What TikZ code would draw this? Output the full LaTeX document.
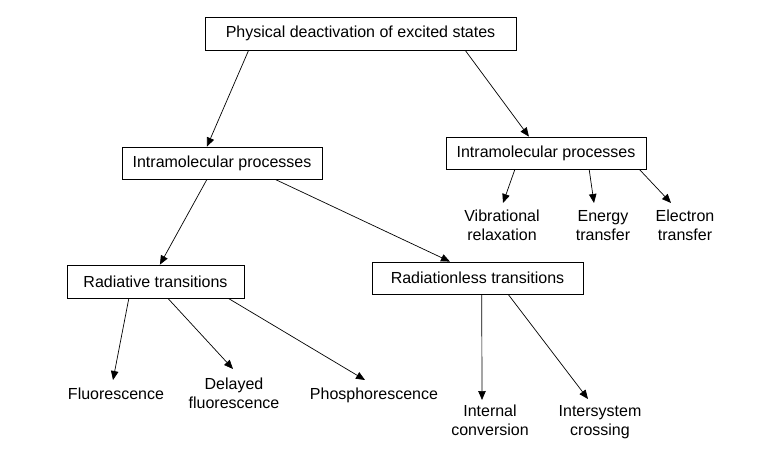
\documentclass[tikz,border=0pt]{standalone}
\usepackage{fontspec}
\setmainfont{Liberation Sans}
\usetikzlibrary{arrows.meta,calc}
\begin{document}
\begin{tikzpicture}[x=1pt,y=-1pt,
  box/.style={draw, line width=0.8pt, inner sep=0pt, font=\fontsize{16}{19}\selectfont},
  lbl/.style={align=center, inner sep=0pt, anchor=north, font=\fontsize{16}{19}\selectfont},
  arr/.style={-{Triangle[length=9pt,width=7.5pt]}, line width=0.7pt}]
\useasboundingbox (0,0) rectangle (762,453);
% boxes
\node[box, minimum width=311pt, minimum height=33pt] (top) at (360.5,33.5) {Physical deactivation of excited states};
\node[box, minimum width=200pt, minimum height=32pt] (il) at (222,163) {Intramolecular processes};
\node[box, minimum width=200pt, minimum height=32pt] (ir) at (546,153) {Intramolecular processes};
\node[box, minimum width=177pt, minimum height=33pt] (rad) at (155.5,281.5) {Radiative transitions};
\node[box, minimum width=211pt, minimum height=32pt] (rnl) at (477.5,278) {Radiationless transitions};
% labels
\node[lbl] (vib) at (502,210) {Vibrational\\relaxation};
\node[lbl] (ene) at (603,210) {Energy\\transfer};
\node[lbl] (ele) at (685,210) {Electron\\transfer};
\node[lbl] (flu) at (116,388) {Fluorescence};
\node[lbl] (del) at (234,378) {Delayed\\fluorescence};
\node[lbl] (pho) at (374,388) {Phosphorescence};
\node[lbl] (int) at (490,405) {Internal\\conversion};
\node[lbl] (isc) at (600,405) {Intersystem\\crossing};
% connectors
\draw[arr] ($(top.south west)!0.141!(top.south east)$) -- ($(il.north west)!0.425!(il.north east)$);
\draw[arr] ($(top.south west)!0.836!(top.south east)$) -- ($(ir.north west)!0.415!(ir.north east)$);
\draw[arr] ($(il.south west)!0.425!(il.south east)$) -- ($(rad.north west)!0.525!(rad.north east)$);
\draw[arr] ($(il.south west)!0.765!(il.south east)$) -- ($(rnl.north west)!0.37!(rnl.north east)$);
\draw[arr] ($(ir.south west)!0.345!(ir.south east)$) -- ($(vib.north)+(1,-7)$);
\draw[arr] ($(ir.south west)!0.715!(ir.south east)$) -- ($(ene.north)+(-9,-7)$);
\draw[arr] ($(ir.south west)!0.965!(ir.south east)$) -- ($(ele.north)+(-14,-7)$);
\draw[arr] ($(rad.south west)!0.35!(rad.south east)$) -- ($(flu.north)+(-3,-8)$);
\draw[arr] ($(rad.south west)!0.57!(rad.south east)$) -- ($(del.north)+(-1,-9)$);
\draw[arr] ($(rad.south west)!0.91!(rad.south east)$) -- ($(pho.north)+(-9,-8)$);
\draw[arr] ($(rnl.south west)!0.52!(rnl.south east)$) -- ($(int.north)+(-8,-5)$);
\draw[arr] ($(rnl.south west)!0.645!(rnl.south east)$) -- ($(isc.north)+(-12,-6)$);
\end{tikzpicture}
\end{document}
